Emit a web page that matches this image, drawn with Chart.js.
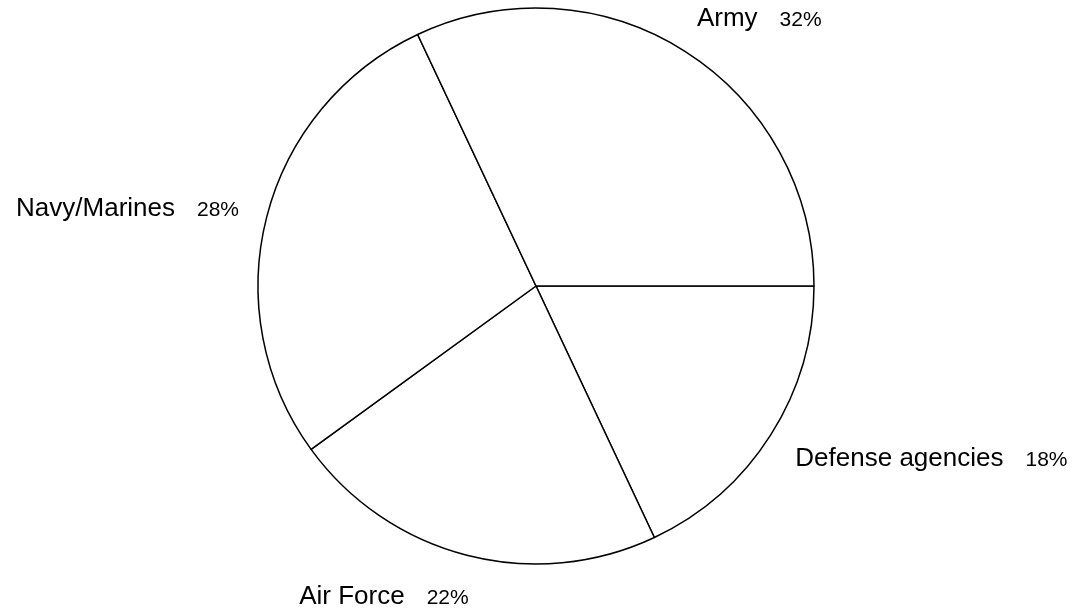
<!DOCTYPE html>
<html>
<head>
<meta charset="utf-8">
<script src="https://cdn.jsdelivr.net/npm/chart.js@4/dist/chart.umd.min.js"></script>
<style>
  html, body { margin: 0; padding: 0; background: #fff; }
  #wrap { width: 1079px; height: 613px; }
</style>
</head>
<body>
<div id="wrap"><canvas id="pieChart" width="1079" height="613"></canvas></div>
<script>
// Datos (orden en sentido antihorario desde las 3 en punto)
const categories = ['Army', 'Navy/Marines', 'Air Force', 'Defense agencies'];
const shares = [32, 28, 22, 18];

// Chart.js dibuja en sentido horario, asi que invertimos el orden
const drawLabels = categories.slice().reverse();
const drawValues = shares.slice().reverse();

const FONT = "Arial, 'Liberation Sans', Helvetica, sans-serif";

// Etiquetas fuera del pastel: nombre + porcentaje
const outsideLabels = {
    id: 'outsideLabels',
    afterDatasetsDraw(chart) {
        const ctx = chart.ctx;
        const meta = chart.getDatasetMeta(0);
        ctx.save();
        ctx.fillStyle = '#000';
        ctx.textBaseline = 'alphabetic';
        meta.data.forEach((arc, i) => {
            const p = arc.getProps(['x', 'y', 'startAngle', 'endAngle', 'outerRadius'], true);
            const mid = (p.startAngle + p.endAngle) / 2;
            const dist = p.outerRadius + 41;
            const ax = p.x + Math.cos(mid) * dist;
            const ay = p.y + Math.sin(mid) * dist;
            const name = drawLabels[i];
            const pct = drawValues[i] + '%';
            ctx.font = '26px ' + FONT;
            const wName = ctx.measureText(name).width;
            ctx.font = '21px ' + FONT;
            const wPct = ctx.measureText(pct).width;
            const gap = 22;
            const total = wName + gap + wPct;
            let left;
            if (Math.cos(mid) < 0) {
                left = ax + 12 - total;
            } else {
                left = ax - 10;
            }
            const baseY = ay + 9;
            ctx.font = '26px ' + FONT;
            ctx.textAlign = 'left';
            ctx.fillText(name, left, baseY);
            ctx.font = '21px ' + FONT;
            ctx.fillText(pct, left + wName + gap, baseY);
        });
        ctx.restore();
    }
};

function initPieChart() {
    const el = document.getElementById('pieChart');
    if (!el || typeof Chart === 'undefined') {
        console.error('No se pudo inicializar el grafico');
        return;
    }
    window.pieChart = new Chart(el, {
        type: 'pie',
        data: {
            labels: drawLabels,
            datasets: [{
                data: drawValues,
                backgroundColor: '#ffffff',
                borderColor: '#000000',
                borderWidth: 1.5,
                borderAlign: 'center',
                radius: 278
            }]
        },
        options: {
            responsive: false,
            animation: false,
            rotation: 90,
            layout: { padding: { left: 0, right: 7, top: 0, bottom: 41 } },
            plugins: {
                legend: { display: false },
                tooltip: { enabled: false }
            }
        },
        plugins: [outsideLabels]
    });
}

initPieChart();
</script>
</body>
</html>
